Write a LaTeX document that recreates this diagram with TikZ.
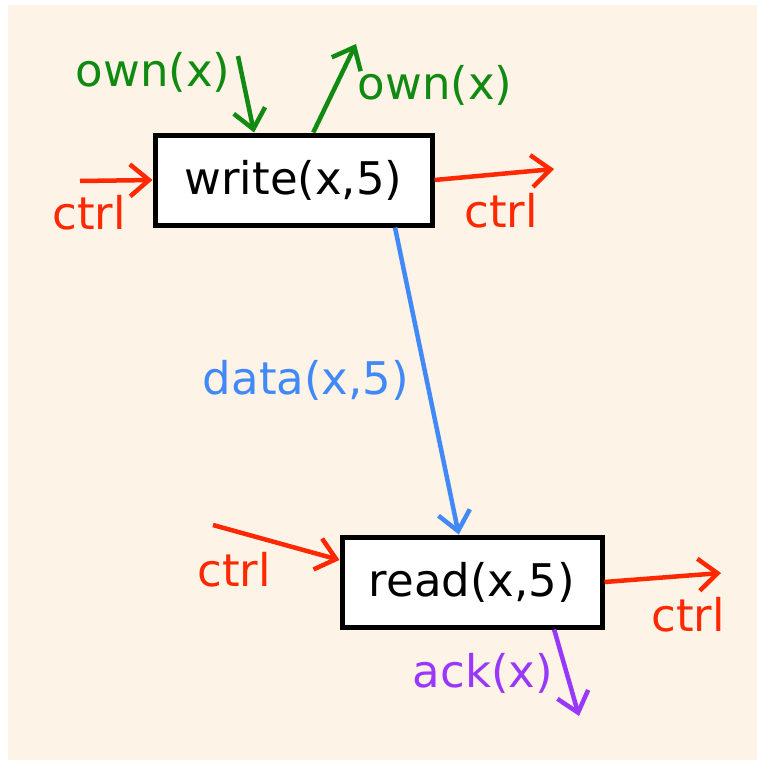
\documentclass[tikz,border=0pt]{standalone}
\usepackage{fontspec}
\setmainfont{DejaVu Sans}
\usetikzlibrary{calc}
\usetikzlibrary{arrows.meta}

\definecolor{peach}{RGB}{253,243,231}
\definecolor{owngreen}{RGB}{16,138,16}
\definecolor{ctrlred}{RGB}{255,40,0}
\definecolor{datablue}{RGB}{64,137,247}
\definecolor{ackpurple}{RGB}{153,56,250}

\tikzset{
  opbox/.style={draw, line width=5pt, fill=white, minimum height=90pt, inner sep=0pt, font=\fontsize{45}{50}\selectfont},
  lbl/.style={inner sep=0pt, font=\fontsize{45}{50}\selectfont},
  wire/.style={line width=4.5pt, -{Straight Barb[length=19pt,width=32pt,line width=4.5pt]}}
}

\begin{document}
\begin{tikzpicture}[x=1pt, y=-1pt]

\useasboundingbox (0, 0) rectangle (757, 760);
\fill[white] (0, 0) rectangle (757, 760);
\fill[peach] (8, 5) rectangle (757, 760);

\node[opbox, minimum width=277pt] (write) at (293.5, 180) {write(x,5)};
\node[opbox, minimum width=260pt] (read) at (472, 582) {read(x,5)};

\coordinate (ownsrc) at (238, 56);
\coordinate (owndst) at (356, 44);
\coordinate (ctrlsrc) at (80, 181);
\coordinate (ctrldst) at (554, 169);
\coordinate (readsrc) at (213, 525);
\coordinate (readdst) at (721, 573);
\coordinate (ackdst) at (579, 716);

\draw[wire, owngreen] (ownsrc) -- ($(write.north west)!0.36!(write.north east)$);
\draw[wire, owngreen] ($(write.north west)!0.57!(write.north east)$) -- (owndst);
\draw[wire, ctrlred] (ctrlsrc) -- (write.west);
\draw[wire, ctrlred] (write.east) -- (ctrldst);
\draw[wire, datablue] ($(write.south west)!0.86!(write.south east)$) -- ($(read.north west)!0.45!(read.north east)$);
\draw[wire, ctrlred] (readsrc) -- ($(read.west)+(0,-22)$);
\draw[wire, ctrlred] (read.east) -- (readdst);
\draw[wire, ackpurple] ($(read.south west)!0.81!(read.south east)$) -- (ackdst);

\node[lbl, owngreen] (ownin) at (153, 72) {own(x)};
\node[lbl, owngreen] (ownout) at (435, 85) {own(x)};
\node[lbl, ctrlred] (ctrlwin) at (89, 213) {ctrl};
\node[lbl, ctrlred] (ctrlwout) at (501, 211) {ctrl};
\node[lbl, datablue] (datalbl) at (306, 380) {data(x,5)};
\node[lbl, ctrlred] (ctrlrin) at (234, 570) {ctrl};
\node[lbl, ctrlred] (ctrlrout) at (688, 615) {ctrl};
\node[lbl, ackpurple] (acklbl) at (483, 673) {ack(x)};

\end{tikzpicture}
\end{document}
